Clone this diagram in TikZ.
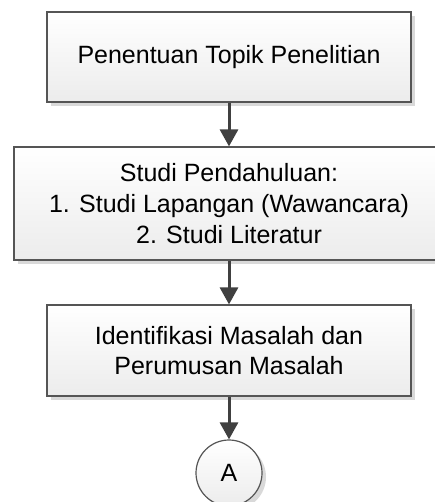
\documentclass[tikz,border=0pt]{standalone}
\usepackage{fontspec}
\setmainfont{Liberation Sans}
\usetikzlibrary{arrows.meta,shadows}
\definecolor{linec}{HTML}{404040}
\definecolor{borderc}{HTML}{555555}
\tikzset{
  shade box/.style={draw=borderc, line width=1.2pt, top color=white, bottom color=gray!15,
    drop shadow={shadow xshift=4pt, shadow yshift=-4pt, fill=gray!30, opacity=1}},
  proc/.style={shade box, rectangle, align=center, inner sep=0pt,
    font=\fontsize{25}{29.5}\selectfont},
  connector/.style={shade box, circle, inner sep=0pt, minimum size=66pt,
    font=\fontsize{25}{29}\selectfont},
  flow/.style={draw=linec, line width=3pt, -{Triangle[width=18pt,length=17pt]}}
}
\begin{document}
\begin{tikzpicture}[x=1pt,y=-1pt]
\useasboundingbox (0,0) rectangle (435,502);
\clip (0,0) rectangle (435,502);
\node[proc, minimum width=364pt, minimum height=90pt] (b1) at (229,57) {Penentuan Topik Penelitian};
\node[proc, minimum width=430pt, minimum height=113pt, font=\fontsize{25}{31}\selectfont] (b2) at (229,203.5) {Studi Pendahuluan:\\1. Studi Lapangan (Wawancara)\\2. Studi Literatur};
\node[proc, minimum width=364pt, minimum height=91pt] (b3) at (229,350.5) {Identifikasi Masalah dan\\Perumusan Masalah};
\node[connector] (c) at (229,473) {A};
\draw[flow] (b1.south) -- (b2.north);
\draw[flow] (b2.south) -- (b3.north);
\draw[flow] (b3.south) -- (c.north);
\end{tikzpicture}
\end{document}
